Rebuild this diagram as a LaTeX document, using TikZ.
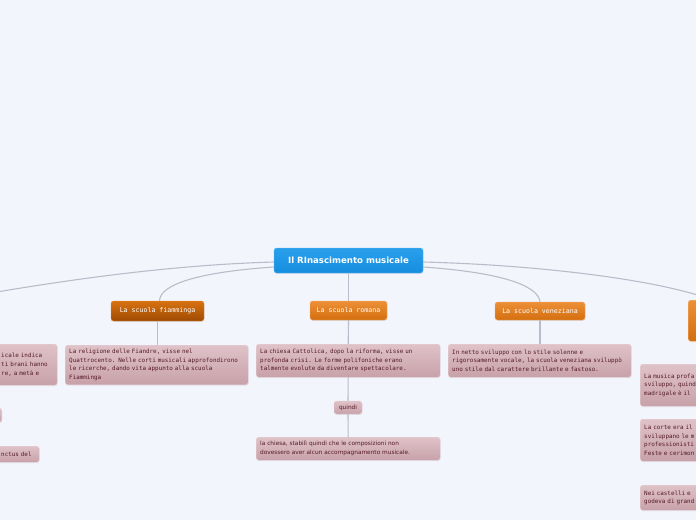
\documentclass[tikz,border=0pt]{standalone}
\usepackage{fontspec}
\setmainfont{DejaVu Sans}
\setmonofont{DejaVu Sans Mono}
\usepackage{tikz}
\usetikzlibrary{
  positioning,
  calc,
  shadows
}
\definecolor{mmBg}{HTML}{F3F5FD}
\definecolor{mmBlueTop}{HTML}{2AA0EC}
\definecolor{mmBlueBot}{HTML}{168EDF}
\definecolor{mmBlueLine}{HTML}{6CBDF2}
\definecolor{mmOrTop}{HTML}{EC9038}
\definecolor{mmOrBot}{HTML}{D46E0E}
\definecolor{mmOrLine}{HTML}{F2B274}
\definecolor{mmDkTop}{HTML}{D87212}
\definecolor{mmDkBot}{HTML}{9E4A02}
\definecolor{mmPinkTop}{HTML}{DFC2C8}
\definecolor{mmPinkBot}{HTML}{C8A1A9}
\definecolor{mmPinkLine}{HTML}{EAD4D9}
\definecolor{mmInk}{HTML}{551A27}
\definecolor{mmLine}{HTML}{B9BDC9}
\tikzset{
  mmnode/.style={
    rounded corners=2.5pt, inner sep=4pt, align=left,
    drop shadow={shadow xshift=0.4pt, shadow yshift=-0.8pt, opacity=0.18}
  },
  central/.style={mmnode, draw=mmBlueLine, top color=mmBlueTop, bottom color=mmBlueBot,
    text=white, font=\fontsize{8.6}{10}\selectfont\bfseries, align=center,
    minimum width=149pt, minimum height=25pt},
  topic/.style={mmnode, draw=mmOrLine, top color=mmOrTop, bottom color=mmOrBot,
    text=white, font=\ttfamily\fontsize{6.6}{8}\selectfont, align=center, inner sep=2pt},
  seltopic/.style={topic, draw=mmOrTop, top color=mmDkTop, bottom color=mmDkBot},
  notebox/.style={mmnode, draw=mmPinkLine, top color=mmPinkTop, bottom color=mmPinkBot,
    text=mmInk, font=\ttfamily\fontsize{5.9}{8.6}\selectfont},
  plainnote/.style={notebox, font=\fontsize{5.8}{9}\selectfont},
  branch/.style={draw=mmLine, line width=1.1pt}
}

\begin{document}
\begin{tikzpicture}[x=1pt, y=-1pt]
  \useasboundingbox (0,0) rectangle (696,520);
  \clip (0,0) rectangle (696,520);
  \fill[mmBg] (0,0) rectangle (696,520);

  % main topic
  \node[central] (root) at (348.5,260.5) {Il RInascimento musicale};

  % schools
  \node[seltopic, minimum width=93pt, minimum height=20pt] (fia) at (157.5,311) {La scuola fiamminga};
  \node[topic, minimum width=77pt, minimum height=19pt] (rom) at (348.5,310.5) {La scuola romana};
  \node[topic, minimum width=90pt, minimum height=18pt] (ven) at (540,311) {La scuola veneziana};
  \node[topic, anchor=north west, minimum width=50pt, minimum height=41pt] (rtop) at (688,300) {};
  \coordinate (offleft) at (-60,302);

  % notes
  \node[notebox, anchor=north west, text width=52pt, minimum height=41pt] (nleft) at (-3,344)
    {icale indica\\ti brani hanno\\re, a metà e};
  \node[notebox, anchor=north east, minimum width=30pt, minimum height=14pt] (ntiny) at (2,408) {};
  \node[notebox, anchor=north west, text width=34pt, minimum height=16pt] (nnctus) at (-3,446) {nctus del};
  \node[notebox, anchor=north west, text width=175pt, minimum height=39pt] (nfia) at (65,345)
    {La religione delle Fiandre, visse nel\\Quattrocento. Nelle corti musicali approfondirono\\le ricerche, dando vita appunto alla scuola\\Fiamminga};
  \node[notebox, anchor=north west, text width=176pt, minimum height=33pt] (nrom) at (256,344)
    {La chiesa Cattolica, dopo la riforma, visse un\\profonda crisi. Le forme polifoniche erano\\talmente evolute da diventare spettacolare.};
  \node[plainnote, align=center, inner sep=1.5pt, minimum width=28pt, minimum height=13pt] (quindi) at (348,407.5) {quindi};
  \node[plainnote, anchor=north west, text width=176pt, minimum height=23pt] (nstab) at (256,437)
    {la chiesa, stabilì quindi che le composizioni non\\dovessero aver alcun accompagnamento musicale.};
  \node[notebox, anchor=north west, text width=175pt, minimum height=33pt] (nven) at (448,344)
    {In netto sviluppo con lo stile solenne e\\rigorosamente vocale, la scuola veneziana sviluppò\\uno stile dal carattere brillante e fastoso.};
  \node[notebox, anchor=north west, text width=80pt, minimum height=42pt] (nr1) at (640,364)
    {La musica profa\\sviluppo, quind\\madrigale è il};
  \node[notebox, anchor=north west, text width=80pt, minimum height=42pt] (nr2) at (640,419)
    {La corte era il\\sviluppano le m\\professionisti\\Feste e cerimon};
  \node[notebox, anchor=north west, text width=80pt, minimum height=25pt] (nr3) at (640,485)
    {Nei castelli e\\godeva di grand};

  % branches
  \draw[branch] ($(root.west)+(0,1.5)$) .. controls (170,265) and (60,280) .. (offleft);
  \draw[branch] ($(root.west)+(0,6.5)$) .. controls (200,272) and (160,284) .. ($(fia.north)+(2,0)$);
  \draw[branch] (root.south) -- (rom.north);
  \draw[branch] ($(root.east)+(0,6.5)$) .. controls (495,272) and (538,284) .. (ven.north);
  \draw[branch] ($(root.east)+(0,1.5)$) .. controls (540,265) and (660,280) .. ($(rtop.north west)+(24,0)$);
  \draw[branch] (fia.south) -- (fia.south |- nfia.north);
  \draw[branch] (ven.south) -- (ven.south |- nven.north);
  \foreach \s/\e in {rom/nrom, nrom/quindi, quindi/nstab}{\draw[branch] (\s.south) -- (\e.north);}
\end{tikzpicture}
\end{document}
